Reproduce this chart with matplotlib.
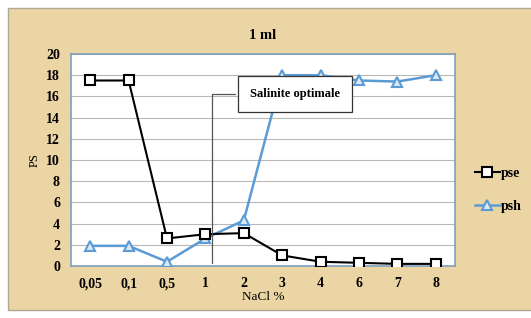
import matplotlib.pyplot as plt
from matplotlib.patches import Rectangle

categories = ["0,05", "0,1", "0,5", "1", "2", "3", "4", "6", "7", "8"]
pse = [17.5, 17.5, 2.6, 3.0, 3.1, 1.0, 0.4, 0.3, 0.2, 0.2]
psh = [1.9, 1.9, 0.4, 2.6, 4.3, 18.0, 18.0, 17.5, 17.4, 18.0]

plt.rcParams['font.family'] = ['Liberation Serif', 'DejaVu Serif']
plt.rcParams['font.weight'] = 'bold'

fig = plt.figure(figsize=(5.31, 3.18), dpi=100)
fig.patch.set_facecolor('white')
# papyrus-like backdrop
fig.patches.append(Rectangle((8 / 531, 8 / 318), 1.0, 302 / 318, transform=fig.transFigure,
                             facecolor='#ecd5a4', edgecolor='#b0a890', lw=1, zorder=-1))

ax = fig.add_axes([71 / 531, 52 / 318, 384 / 531, 212 / 318])
ax.set_facecolor('white')
x = range(len(categories))

ax.plot(x, psh, color='#5b9bd5', lw=1.8, marker='^', ms=7, mfc='#dce9f5', mec='#5b9bd5',
        mew=1.5, label='psh', zorder=3)
ax.plot(x, pse, color='black', lw=1.5, marker='s', ms=7, mfc='white', mec='black',
        mew=1.5, label='pse', zorder=4)

ax.set_xlim(-0.5, len(categories) - 0.5)
ax.set_ylim(0, 20)
ax.set_yticks(range(0, 21, 2))
ax.set_xticks(list(x))
ax.set_xticklabels(categories)
ax.tick_params(length=0, labelsize=10, pad=8)
ax.yaxis.grid(True, color='#b8b8b8', lw=0.8)
ax.set_axisbelow(True)
for s in ax.spines.values():
    s.set_color('#7f9fc0')
    s.set_linewidth(1.2)

ax.set_title('1 ml', fontsize=10.5, fontweight='bold', pad=11)
ax.set_xlabel('NaCl %', fontsize=9.5, labelpad=1)
ax.set_ylabel('PS', fontsize=9, labelpad=4)

ax.annotate('Salinite optimale', xy=(3.17, 0), xytext=(5.33, 16.2),
            fontsize=9, fontweight='bold', ha='center', va='center',
            bbox=dict(boxstyle='square,pad=0.95', fc='white', ec='#333333', lw=0.9),
            arrowprops=dict(arrowstyle='-', color='#555555', lw=0.9,
                            connectionstyle='angle,angleA=180,angleB=90,rad=0'),
            zorder=5)

h, l = ax.get_legend_handles_labels()
fig.legend(h[::-1], l[::-1], loc='center left', bbox_to_anchor=(462 / 531, 1 - 190 / 318),
           frameon=False, fontsize=10, handlelength=1.8, handletextpad=0.1, labelspacing=1.4)

fig.savefig('out.png', dpi=100)
